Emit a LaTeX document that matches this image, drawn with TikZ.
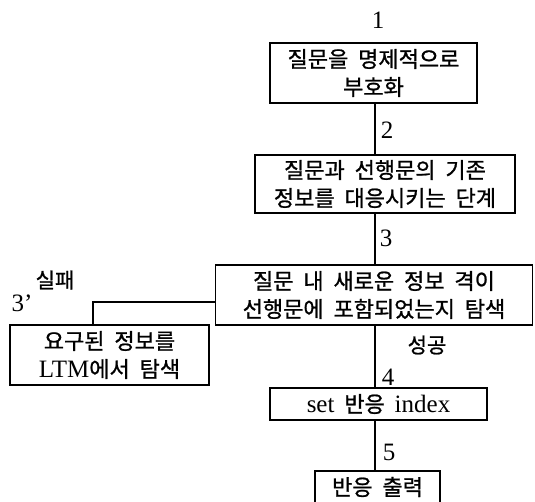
\documentclass[tikz,border=0pt]{standalone}
\usepackage{fontspec}
\setmainfont{Liberation Serif}
\newfontfamily\kr[WordSpace=2,FakeBold=1]{Noto Sans CJK KR}
\newcommand{\lat}{\fontspec{Liberation Serif}}
\begin{document}
\begin{tikzpicture}[x=1pt,y=-1pt,
  stepbox/.style={draw,line width=1.2pt,rectangle,inner sep=0pt,align=center,font=\kr\fontsize{22}{28}\selectfont},
  conn/.style={line width=1.6pt},
  lbl/.style={inner sep=0pt,font=\fontsize{25}{26}\selectfont},
  klbl/.style={inner sep=0pt,font=\kr\fontsize{21}{24}\selectfont}]
\useasboundingbox (0,0) rectangle (535,502);
\coordinate (trunk) at (375,0);
\coordinate (bend) at (93,302);
\node[stepbox,minimum width=207pt,minimum height=60pt] (b1) at (373.5,73) {질문을 명제적으로\\부호화};
\node[stepbox,minimum width=260pt,minimum height=58pt] (b2) at (385,184) {질문과 선행문의 기존\\정보를 대응시키는 단계};
\node[stepbox,minimum width=317pt,minimum height=60pt] (b3) at (374,295) {질문 내 새로운 정보 격이\\선행문에 포함되었는지 탐색};
\node[stepbox,minimum width=199pt,minimum height=60pt] (b4) at (109.5,355) {요구된 정보를\\{\lat\fontsize{25}{28}\selectfont LTM}에서 탐색};
\node[stepbox,minimum width=217pt,minimum height=32pt] (b5) at (378.5,404) {{\lat\fontsize{25}{28}\selectfont set} 반응 {\lat\fontsize{25}{28}\selectfont index}};
\node[stepbox,minimum width=125pt,minimum height=32pt] (b6) at (377.5,487) {반응 출력};
\draw[conn] (b1.south -| trunk) -- (b2.north -| trunk);
\draw[conn] (b2.south -| trunk) -- (b3.north -| trunk);
\draw[conn] (b3.south -| trunk) -- (b5.north -| trunk);
\draw[conn] (b5.south -| trunk) -- (b6.north -| trunk);
\draw[conn] (b3.west |- bend) -| (b4.north -| bend);
\node[lbl] (n1) at (378,20) {1};
\node[lbl] (n2) at (387,130) {2};
\node[lbl] (n3) at (386,238) {3};
\node[lbl] (n4) at (388,377) {4};
\node[lbl] (n5) at (389,452) {5};
\node[lbl] (n3p) at (22,303) {3’};
\node[klbl] (ok) at (427,345) {성공};
\node[klbl] (fail) at (55,280) {실패};
\end{tikzpicture}
\end{document}
